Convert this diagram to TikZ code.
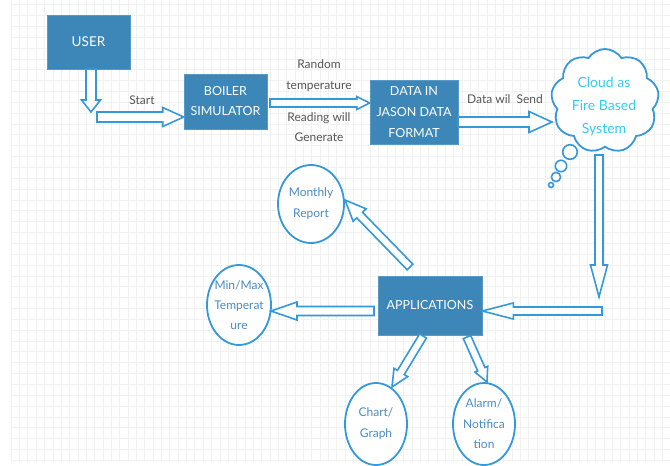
\documentclass[tikz,border=0pt]{standalone}
\usepackage{fontspec}
\setmainfont{Lato}
\usetikzlibrary{shapes.geometric,shapes.symbols,calc}
\definecolor{boxblue}{RGB}{61,135,184}
\definecolor{arrowblue}{RGB}{52,152,219}
\definecolor{circtext}{RGB}{74,140,196}
\definecolor{cloudtext}{RGB}{50,204,242}
\definecolor{labelgrey}{RGB}{85,85,85}
\definecolor{gridminor}{RGB}{241,241,241}
\tikzset{
  shaftw/.store in=\bsw, headw/.store in=\bhw, headl/.store in=\bhl,
  shaftw=10, headw=19, headl=20,
  blockarrow/.style={draw=arrowblue, line width=1.6pt, fill=white, line join=miter,
    to path={let \p1=(\tikztostart), \p2=(\tikztotarget),
      \n1={atan2(\y2-\y1,\x2-\x1)}, \n2={veclen(\x2-\x1,\y2-\y1)} in
      [shift={(\p1)}, rotate=\n1]
      (0pt,{-\bsw*0.5pt}) -- ({\n2-\bhl*1pt},{-\bsw*0.5pt}) -- ({\n2-\bhl*1pt},{-\bhw*0.5pt})
      -- ({\n2+0pt},0pt) -- ({\n2-\bhl*1pt},{\bhw*0.5pt}) -- ({\n2-\bhl*1pt},{\bsw*0.5pt})
      -- (0pt,{\bsw*0.5pt}) -- cycle}},
  box/.style={rectangle, fill=boxblue, draw=boxblue!85!white, line width=0.6pt,
    text=white, align=center, inner sep=0pt},
  ell/.style={ellipse, draw=arrowblue, line width=1.8pt, fill=white, inner sep=0pt},
  ctext/.style={text=circtext, align=center, inner sep=0pt},
  lbl/.style={text=labelgrey, align=center, inner sep=0pt}
}
\begin{document}
\begin{tikzpicture}[x=1pt,y=-1pt]
\useasboundingbox (0,0) rectangle (670,466);
% grid
\foreach \i in {0,...,78} {
  \pgfmathsetmacro{\gx}{11+8.35*\i}
  \draw[gridminor, line width=0.5pt] (\gx,0) -- (\gx,462);
}
\foreach \j in {0,...,42} {
  \pgfmathsetmacro{\gy}{4.5+10.85*\j}
  \draw[gridminor, line width=0.5pt] (11,\gy) -- (670,\gy);
}
% boxes
\node[box, minimum width=83pt, minimum height=54pt, font=\fontsize{13.5}{21}\selectfont] (user) at (88.5,42) {USER};
\node[box, minimum width=83pt, minimum height=55pt, font=\fontsize{12.5}{20}\selectfont] (boiler) at (225.5,101.5) {BOILER\\SIMULATOR};
\node[box, minimum width=88pt, minimum height=64pt, font=\fontsize{12.5}{21}\selectfont] (data) at (414,112) {DATA IN\\JASON DATA\\FORMAT};
\node[box, minimum width=104pt, minimum height=59pt, font=\fontsize{12.5}{21}\selectfont] (apps) at (430,305.5) {APPLICATIONS};
% cloud
\node[cloud, draw=arrowblue, line width=1.8pt, fill=white, cloud puffs=9, cloud puff arc=115, aspect=1.05,
  minimum width=108pt, minimum height=104pt, inner sep=0pt] (cloud) at (605,101) {};
\node[text=cloudtext, align=center, inner sep=0pt, font=\fontsize{14}{23}\selectfont] (cloudtxt) at (604,107) {Cloud as\\Fire Based\\System};
\foreach \cx/\cy/\r in {570/152/7.3, 561/166/5.7, 556/177/4.6, 551/185/2.5}
  \draw[arrowblue, line width=1.6pt, fill=white] (\cx,\cy) circle[radius=\r];
% ellipses
\node[ell, minimum width=66pt, minimum height=78pt] (monthly) at (311,204) {};
\node[ctext, font=\fontsize{12}{21}\selectfont] at (monthly) {Monthly\\Report};
\node[ell, minimum width=64pt, minimum height=80pt] (minmax) at (239,305) {};
\node[ctext, font=\fontsize{12}{20}\selectfont] at (minmax) {Min/Max\\Temperat\\ure};
\node[ell, minimum width=62pt, minimum height=82pt] (chart) at (376,424) {};
\node[ctext, font=\fontsize{12}{21}\selectfont] at (chart) {Chart/\\Graph};
\node[ell, minimum width=62pt, minimum height=82pt] (alarm) at (484,424) {};
\node[ctext, font=\fontsize{12}{20.5}\selectfont] at (alarm) {Alarm/\\Notifica\\tion};
% connector end points
\coordinate (a1s) at (91,69);
\coordinate (a1t) at (91,112);
\coordinate (a2s) at (97,117);
\coordinate (a3s) at (270,103);
\coordinate (a4s) at (458,122);
\coordinate (a4t) at (552,122);
\coordinate (a5s) at (599,155);
\coordinate (a5t) at (599,297);
\coordinate (a6s) at (602,311);
\coordinate (a7s) at (374,311);
\coordinate (a7t) at (271,311);
\coordinate (a8s) at (410,267);
\coordinate (a8t) at (345,200);
\coordinate (a9s) at (423,336);
\coordinate (a9t) at (392,387);
\coordinate (a10s) at (467,337);
\coordinate (a10t) at (487,382);
% connectors
\draw[blockarrow, shaftw=10, headw=19, headl=12] (a1s) to (a1t);
\draw[blockarrow, shaftw=10, headw=19, headl=21] (a2s) to (boiler.west |- a2s);
\draw[blockarrow, shaftw=8, headw=13, headl=13] (a3s) to (data.west |- a3s);
\draw[blockarrow, shaftw=10, headw=21, headl=23] (a4s) to (a4t);
\draw[blockarrow, shaftw=8, headw=17, headl=32] (a5s) to (a5t);
\draw[blockarrow, shaftw=8, headw=16, headl=31] (a6s) to (apps.east |- a6s);
\draw[blockarrow, shaftw=9, headw=18, headl=26] (a7s) to (a7t);
\draw[blockarrow, shaftw=8, headw=18, headl=21] (a8s) to (a8t);
\draw[blockarrow, shaftw=8, headw=16, headl=17] (a9s) to (a9t);
\draw[blockarrow, shaftw=8, headw=14, headl=14] (a10s) to (a10t);
% labels
\node[lbl, font=\fontsize{12}{20}\selectfont] (lstart) at (142,100) {Start};
\node[lbl, font=\fontsize{12}{21}\selectfont] (lrand) at (319,75.5) {Random\\temperature};
\node[lbl, font=\fontsize{12}{20}\selectfont] (lread) at (319,127) {Reading will\\Generate};
\node[lbl, font=\fontsize{12}{20}\selectfont] (lsend) at (505,99) {Data wil\ \ Send};
\end{tikzpicture}
\end{document}
